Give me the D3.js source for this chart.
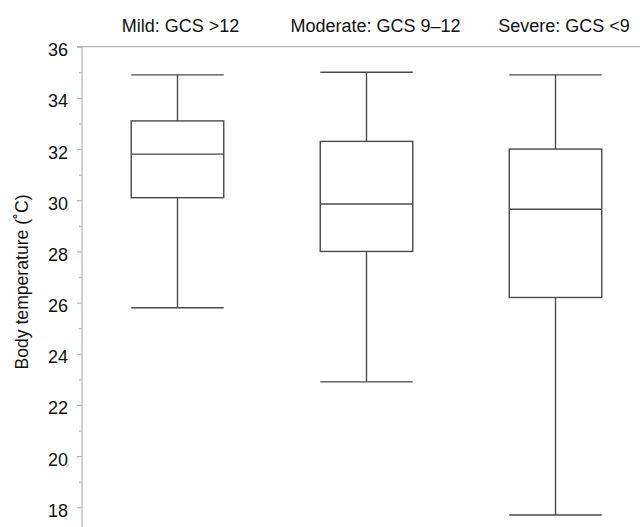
<!DOCTYPE html>
<html>
<head>
<meta charset="utf-8">
<script src="https://cdn.jsdelivr.net/npm/d3@7"></script>
<style>
  html, body { margin: 0; padding: 0; background: #fff; }
  svg { display: block; }
  text { font-family: "Liberation Sans", Arial, sans-serif; fill: #111; }
</style>
</head>
<body>
<svg id="chart" width="640" height="527"></svg>
<script>
// ---- data ----
const categories   = ["Mild: GCS >12", "Moderate: GCS 9\u201312", "Severe: GCS <9"];
const whiskerLow   = [25.8, 22.9, 17.7];
const q1           = [30.1, 28.0, 26.2];
const median       = [31.8, 29.85, 29.65];
const q3           = [33.1, 32.3, 32.0];
const whiskerHigh  = [34.9, 35.0, 34.9];
const majorTicks   = [18, 20, 22, 24, 26, 28, 30, 32, 34, 36];
const minorTicks   = [19, 21, 23, 25, 27, 29, 31, 33, 35];
const yTitle       = "Body temperature (\u02DAC)";

// ---- layout ----
const W = 640, H = 527;
const axisX = 82, topY = 46.7;
const labelDx = [3, 9, 8.5];
const boxW = 92.5;
const boxColor = "#4a4a4a";
const axisColor = "#b3b3b3";

const svg = d3.select("#chart");

const y = d3.scaleLinear().domain([18, 36]).range([507.3, topY]);
const x = d3.scalePoint().domain(categories).range([83, 650]).padding(0.5);

// axis lines
svg.append("line")
  .attr("x1", axisX - 5).attr("x2", W)
  .attr("y1", y(36)).attr("y2", y(36))
  .attr("stroke", axisColor).attr("stroke-width", 1.2);
svg.append("line")
  .attr("x1", axisX).attr("x2", axisX)
  .attr("y1", y(36)).attr("y2", H)
  .attr("stroke", axisColor).attr("stroke-width", 1.2);

const gMajor = svg.append("g").attr("transform", `translate(${axisX},0)`)
  .call(d3.axisLeft(y).tickValues(majorTicks).tickSize(5).tickPadding(9).tickFormat(d3.format("d")));
gMajor.select(".domain").remove();
gMajor.selectAll(".tick line").attr("stroke", axisColor).attr("stroke-width", 1.2);
gMajor.selectAll(".tick text")
  .attr("font-size", 18).attr("dy", "0.5em")
  .style("font-family", "'Liberation Sans', Arial, sans-serif").attr("fill", "#111");

const gMinor = svg.append("g").attr("transform", `translate(${axisX},0)`)
  .call(d3.axisLeft(y).tickValues(minorTicks).tickSize(3).tickFormat(""));
gMinor.select(".domain").remove();
gMinor.selectAll(".tick line").attr("stroke", axisColor).attr("stroke-width", 1.2);

// y title
svg.append("text")
  .attr("transform", `translate(28,282) rotate(-90)`)
  .attr("text-anchor", "middle")
  .attr("font-size", 17.6)
  .text(yTitle);

// category labels
svg.selectAll(".cat").data(categories).join("text")
  .attr("class", "cat")
  .attr("x", (d, i) => x(d) + labelDx[i])
  .attr("y", 31.5)
  .attr("text-anchor", "middle")
  .attr("font-size", 18)
  .text(d => d);

// boxes
const idx = d3.range(categories.length);
const g = svg.append("g").attr("stroke", boxColor).attr("stroke-width", 1.4).attr("fill", "none");

idx.forEach(i => {
  const cx = x(categories[i]);
  // whiskers
  g.append("line").attr("x1", cx).attr("x2", cx).attr("y1", y(whiskerHigh[i])).attr("y2", y(q3[i]));
  g.append("line").attr("x1", cx).attr("x2", cx).attr("y1", y(q1[i])).attr("y2", y(whiskerLow[i]));
  // caps
  g.append("line").attr("x1", cx - boxW / 2).attr("x2", cx + boxW / 2).attr("y1", y(whiskerHigh[i])).attr("y2", y(whiskerHigh[i]));
  g.append("line").attr("x1", cx - boxW / 2).attr("x2", cx + boxW / 2).attr("y1", y(whiskerLow[i])).attr("y2", y(whiskerLow[i]));
  // box
  g.append("rect").attr("x", cx - boxW / 2).attr("width", boxW)
    .attr("y", y(q3[i])).attr("height", y(q1[i]) - y(q3[i]));
  // median
  g.append("line").attr("x1", cx - boxW / 2).attr("x2", cx + boxW / 2).attr("y1", y(median[i])).attr("y2", y(median[i]));
});
</script>
</body>
</html>
